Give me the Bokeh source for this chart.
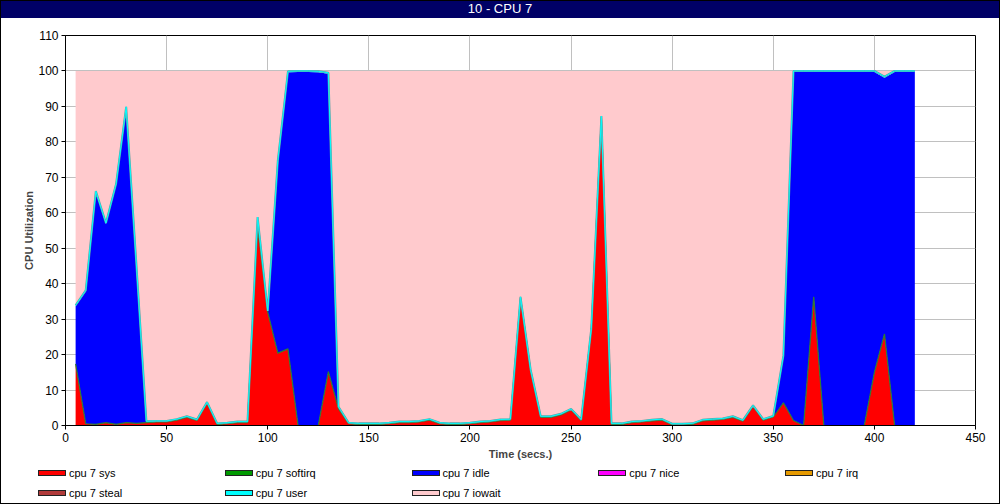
from bokeh.plotting import figure
from bokeh.models import ColumnDataSource, FixedTicker, Range1d, Div
from bokeh.layouts import column
from bokeh.transform import stack
from bokeh.embed import file_html
from bokeh.resources import INLINE

FONT = "'Liberation Sans Narrow', 'Liberation Sans', Arial, sans-serif"

t = list(range(5, 425, 5))

sys_ = [17.4, 0.5, 0.3, 0.8, 0.3, 0.8, 0.6, 0.8, 1.0, 1.0,
        1.5, 2.3, 1.4, 6.3, 0.3, 0.5, 0.8, 0.8, 56.0, 32.0,
        20.4, 21.6, 0.0, 0.0, 0.0, 15.2, 4.7, 0.5, 0.3, 0.3,
        0.3, 0.5, 0.8, 0.8, 1.0, 1.5, 0.5, 0.3, 0.3, 0.5,
        0.8, 1.0, 1.4, 1.5, 36.0, 15.5, 2.3, 2.3, 3.0, 4.4,
        1.4, 27.0, 87.0, 0.3, 0.3, 0.8, 1.0, 1.3, 1.5, 0.2,
        0.2, 0.3, 1.3, 1.5, 1.7, 2.3, 1.2, 5.4, 1.5, 2.4,
        6.4, 1.4, 0.0, 36.3, 0.0, 0.0, 0.0, 0.0, 0.0, 15.0,
        25.8, 0.0, 0.0, 0.0]

softirq = [0.0] * 84

idle = [16.2, 37.3, 65.5, 56.0, 67.5, 88.8, 45.0, 0.1, 0.0, 0.0,
        0.0, 0.0, 0.0, 0.0, 0.0, 0.0, 0.0, 0.0, 2.5, 0.0,
        54.0, 78.0, 99.7, 99.7, 99.6, 84.0, 0.3, 0.0, 0.0, 0.0,
        0.0, 0.0, 0.0, 0.0, 0.0, 0.0, 0.0, 0.0, 0.0, 0.0,
        0.0, 0.0, 0.0, 0.0, 0.0, 0.0, 0.0, 0.0, 0.0, 0.0,
        0.0, 0.0, 0.0, 0.0, 0.0, 0.0, 0.0, 0.0, 0.0, 0.0,
        0.0, 0.0, 0.0, 0.0, 0.0, 0.0, 0.0, 0.0, 0.0, 0.0,
        13.0, 98.3, 99.7, 63.4, 99.7, 99.7, 99.7, 99.7, 99.7, 84.7,
        72.3, 99.7, 99.7, 99.7]

nice = [0.0] * 84
irq = [0.0] * 84
steal = [0.0] * 84
user = [0.3] * 84

iowait = [66.1, 61.9, 33.9, 42.9, 31.9, 10.1, 54.1, 98.8, 98.7, 98.7,
          98.2, 97.4, 98.3, 93.4, 99.4, 99.2, 98.9, 98.9, 41.2, 67.7,
          25.3, 0.1, 0.0, 0.0, 0.1, 0.5, 94.7, 99.2, 99.4, 99.4,
          99.4, 99.2, 98.9, 98.9, 98.7, 98.2, 99.2, 99.4, 99.4, 99.2,
          98.9, 98.7, 98.3, 98.2, 63.7, 84.2, 97.4, 97.4, 96.7, 95.3,
          98.3, 72.7, 12.7, 99.4, 99.4, 98.9, 98.7, 98.4, 98.2, 99.5,
          99.5, 99.4, 98.4, 98.2, 98.0, 97.4, 98.5, 94.3, 98.2, 97.3,
          80.3, 0.0, 0.0, 0.0, 0.0, 0.0, 0.0, 0.0, 0.0, 0.0,
          1.6, 0.0, 0.0, 0.0]

names = ["sys", "softirq", "idle", "nice", "irq", "steal", "user", "iowait"]
labels = ["cpu 7 sys", "cpu 7 softirq", "cpu 7 idle", "cpu 7 nice", "cpu 7 irq",
          "cpu 7 steal", "cpu 7 user", "cpu 7 iowait"]
colors = ["#ff0000", "#009900", "#0000ff", "#ff00ff", "#e69a00",
          "#b03a3a", "#00ffff", "#ffcacd"]

source = ColumnDataSource(dict(t=t, sys=sys_, softirq=softirq, idle=idle, nice=nice,
                               irq=irq, steal=steal, user=user, iowait=iowait))

header = Div(text="10 - CPU 7", width=1000, height=18, margin=(0, 0, 0, 0),
             styles={"background-color": "#000066", "color": "white",
                     "text-align": "center", "font-family": FONT,
                     "font-size": "13px", "line-height": "18px",
                     "width": "1000px", "height": "18px"})

# main chart: page rows 18..465
p = figure(width=1000, height=447, output_backend="svg", toolbar_location=None,
           x_range=Range1d(0, 450), y_range=Range1d(0, 110),
           min_border_left=65, min_border_right=25, min_border_top=17, min_border_bottom=40,
           margin=(0, 0, 0, 0))

p.background_fill_color = "white"
p.border_fill_color = "white"
p.outline_line_color = "black"
p.outline_line_width = 1

p.varea_stack(stackers=names, x="t", color=colors, source=source)

# boundary lines
p.line(x="t", y=stack("sys"), source=source, line_color="#2e7d32", line_width=1.2)
p.line(x="t", y=stack(*names[:7]), source=source, line_color="#5f9ea0", line_width=2)
p.line(x="t", y=stack(*names[:7]), source=source, line_color="#00ffff", line_width=1)

for ax in (p.xaxis[0], p.yaxis[0]):
    ax.major_label_text_font = FONT
    ax.major_label_text_font_size = "12px"
    ax.major_label_text_color = "black"
    ax.axis_label_text_font = "Liberation Sans"
    ax.axis_label_text_font_size = "11px"
    ax.axis_label_text_font_style = "bold"
    ax.axis_line_color = "black"
    ax.major_tick_line_color = "black"
    ax.major_tick_out = 4
    ax.major_tick_in = 0
    ax.minor_tick_line_color = None

p.xaxis.axis_label = "Time (secs.)"
p.yaxis.axis_label = "CPU Utilization"
p.xaxis.axis_label_standoff = 3
p.yaxis.axis_label_standoff = 0
p.xaxis.ticker = FixedTicker(ticks=list(range(0, 451, 50)))
p.yaxis.ticker = FixedTicker(ticks=list(range(0, 111, 10)))
p.xaxis.major_label_standoff = 3
p.yaxis.major_label_standoff = 3

p.xgrid.ticker = FixedTicker(ticks=list(range(0, 451, 50)))
p.ygrid.ticker = FixedTicker(ticks=list(range(0, 111, 10)))
p.grid.grid_line_color = "#c0c0c0"
p.grid.grid_line_width = 1

# legend strip (page rows 465..504) built as HTML from the label/colour lists
parts = ['<div style="position:relative;width:1000px;height:39px;'
         'font-family:\'Liberation Sans\',Arial,sans-serif;font-size:11px;color:black;">']
for i, (lab, c) in enumerate(zip(labels, colors)):
    col, row = i % 5, i // 5
    left = 38 + col * 186.75
    top = 1 + row * 19.5
    parts.append(
        f'<div style="position:absolute;left:{left}px;top:{top}px;height:14px;'
        f'display:flex;align-items:center;white-space:nowrap;">'
        f'<span style="display:inline-block;width:28px;height:6px;background:{c};'
        f'border:1px solid #222;"></span>'
        f'<span style="margin-left:3px;line-height:14px;">{lab}</span></div>')
parts.append('<div style="position:absolute;left:0;top:-465px;width:1000px;height:504px;'
             'border:1px solid black;box-sizing:border-box;pointer-events:none;z-index:50;"></div>')
parts.append('</div>')

legend_div = Div(text="".join(parts), width=1000, height=39, margin=(0, 0, 0, 0),
                 styles={"overflow": "visible", "z-index": "50"})

layout = column(header, p, legend_div, spacing=0, margin=(0, 0, 0, 0))
open("out.html", "w").write(file_html(layout, INLINE))
